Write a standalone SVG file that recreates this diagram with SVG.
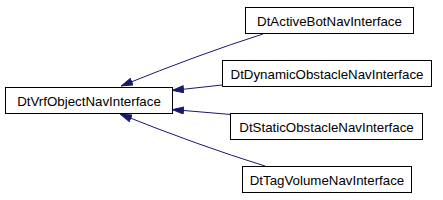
<svg xmlns="http://www.w3.org/2000/svg" width="443" height="200" viewBox="0 0 443 200">
<style>
.box{fill:#fff;stroke:#000;stroke-width:1}
.lbl{font-family:"Liberation Sans",Arial,sans-serif;font-size:13.3px;fill:#000;text-anchor:middle}
.edge{stroke:#191970;stroke-width:1;fill:none}
</style>
<defs>
<marker id="ah" viewBox="0 0 12 8" refX="12" refY="4" markerWidth="12" markerHeight="8" markerUnits="userSpaceOnUse" orient="auto">
<path d="M0.5,0.5 L11.5,4 L0.5,7.5 Z" fill="#191970" stroke="#191970"/>
</marker>
</defs>
<rect width="443" height="200" fill="#fff"/>
<g id="edges">
<path class="edge" d="M263,34 Q200,54 121,86" marker-end="url(#ah)"/>
<path class="edge" d="M222,85 L172,90.5" marker-end="url(#ah)"/>
<path class="edge" d="M231,114.5 L172,109.5" marker-end="url(#ah)"/>
<path class="edge" d="M265,166 Q200,146 120,114" marker-end="url(#ah)"/>
</g>
<g id="DtVrfObjectNavInterface">
<rect class="box" x="5.5" y="87.5" width="167" height="26"/>
<text class="lbl" x="89" y="105.5">DtVrfObjectNavInterface</text>
</g>
<g id="DtActiveBotNavInterface">
<rect class="box" x="245.5" y="7.5" width="168" height="26"/>
<text class="lbl" x="329.5" y="25.5">DtActiveBotNavInterface</text>
</g>
<g id="DtDynamicObstacleNavInterface">
<rect class="box" x="222.5" y="60.5" width="209" height="26"/>
<text class="lbl" x="327" y="78.5">DtDynamicObstacleNavInterface</text>
</g>
<g id="DtStaticObstacleNavInterface">
<rect class="box" x="230.5" y="113.5" width="192" height="26"/>
<text class="lbl" x="326.5" y="131.5">DtStaticObstacleNavInterface</text>
</g>
<g id="DtTagVolumeNavInterface">
<rect class="box" x="242.5" y="166.5" width="169" height="26"/>
<text class="lbl" x="327" y="184.5">DtTagVolumeNavInterface</text>
</g>
</svg>
